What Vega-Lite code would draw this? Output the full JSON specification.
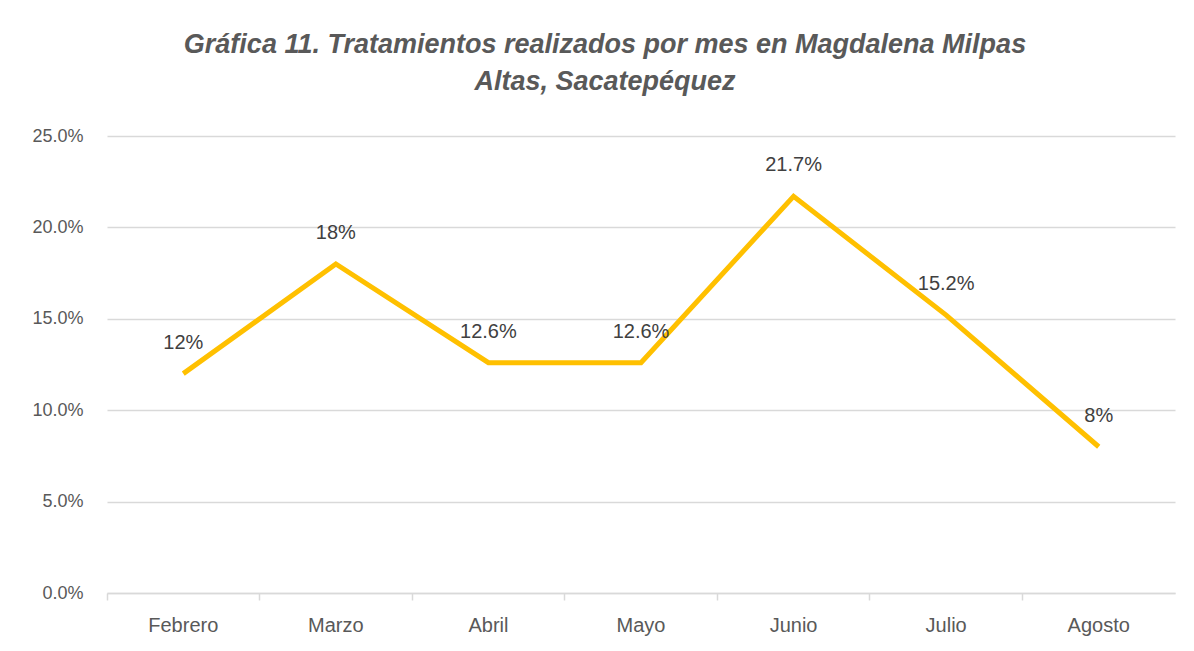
{
  "$schema": "https://vega.github.io/schema/vega-lite/v6.json",
  "width": 1068,
  "height": 457,
  "autosize": {"type": "none"},
  "padding": {"left": 107, "top": 136, "right": 19, "bottom": 58},
  "background": "white",
  "title": {
    "text": ["Gráfica 11. Tratamientos realizados por mes  en Magdalena Milpas", "Altas, Sacatepéquez"],
    "font": "Liberation Sans",
    "fontSize": 27,
    "fontWeight": "bold",
    "fontStyle": "italic",
    "color": "#595959",
    "anchor": "middle",
    "dx": -36,
    "offset": 31,
    "lineHeight": 37
  },
  "data": {
    "values": [
      {"mes": "Febrero", "valor": 0.12, "etiqueta": "12%"},
      {"mes": "Marzo", "valor": 0.18, "etiqueta": "18%"},
      {"mes": "Abril", "valor": 0.126, "etiqueta": "12.6%"},
      {"mes": "Mayo", "valor": 0.126, "etiqueta": "12.6%"},
      {"mes": "Junio", "valor": 0.217, "etiqueta": "21.7%"},
      {"mes": "Julio", "valor": 0.152, "etiqueta": "15.2%"},
      {"mes": "Agosto", "valor": 0.08, "etiqueta": "8%"}
    ]
  },
  "encoding": {
    "x": {
      "field": "mes",
      "type": "nominal",
      "sort": null,
      "scale": {"type": "band", "paddingInner": 0, "paddingOuter": 0},
      "axis": {
        "title": null,
        "labelAngle": 0,
        "bandPosition": 0,
        "labelFont": "Liberation Sans",
        "labelFontSize": 20,
        "labelColor": "#595959",
        "labelPadding": 15,
        "domainColor": "#d9d9d9",
        "domainWidth": 1.5,
        "tickColor": "#d9d9d9",
        "tickSize": 7,
        "tickWidth": 1.5,
        "grid": false
      }
    },
    "y": {
      "field": "valor",
      "type": "quantitative",
      "scale": {"domain": [0, 0.25]},
      "axis": {
        "title": null,
        "values": [0, 0.05, 0.1, 0.15, 0.2, 0.25],
        "format": ".1%",
        "labelFont": "Liberation Sans",
        "labelFontSize": 18,
        "labelColor": "#595959",
        "labelPadding": 24,
        "domain": false,
        "ticks": false,
        "grid": true,
        "gridColor": "#d9d9d9",
        "gridWidth": 1.5
      }
    }
  },
  "layer": [
    {
      "mark": {"type": "line", "color": "#FFC000", "strokeWidth": 5}
    },
    {
      "mark": {"type": "text", "font": "Liberation Sans", "fontSize": 20, "color": "#404040", "dy": -31},
      "encoding": {"text": {"field": "etiqueta"}}
    }
  ],
  "config": {"view": {"stroke": null}}
}
